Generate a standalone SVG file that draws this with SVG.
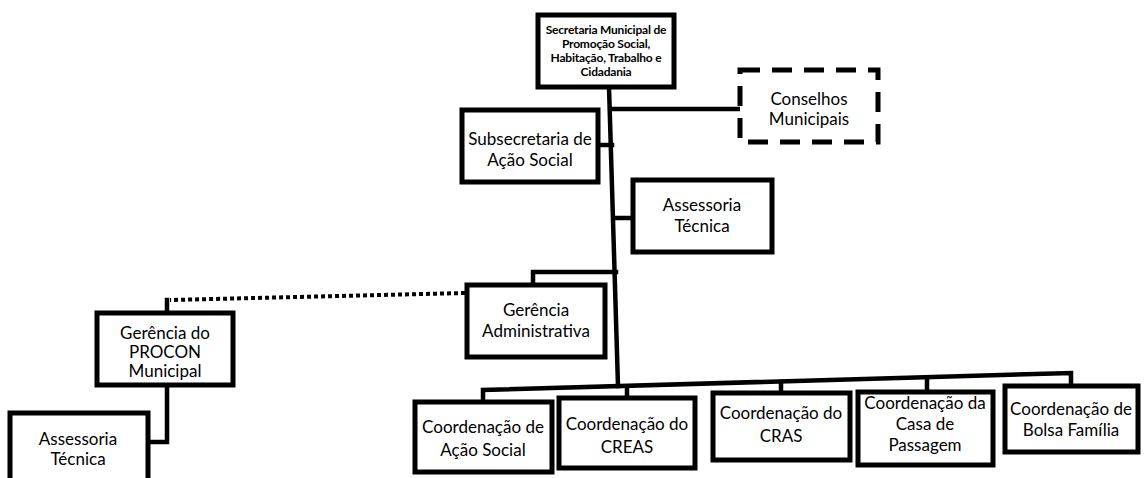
<svg xmlns="http://www.w3.org/2000/svg" width="1148" height="478" viewBox="0 0 1148 478">
<style>
.box{fill:#fff;stroke:#000;stroke-width:5}
.dash{fill:#fff;stroke:#000;stroke-width:5;stroke-dasharray:20 12}
.ln{fill:none;stroke:#000;stroke-width:4.5;stroke-linecap:square}
.dot{fill:none;stroke:#000;stroke-width:4;stroke-dasharray:4 3}
text{font-family:Lato,"Liberation Sans",sans-serif;font-size:17px;fill:#000;text-anchor:middle}
.sm{font-size:12px;font-weight:bold;letter-spacing:-0.2px}
</style>
<rect width="1148" height="478" fill="#fff"/>
<g id="connectors">
<path class="ln" d="M609,87 L618,386"/>
<path class="ln" d="M611,109 L740,109"/>
<path class="ln" d="M598,145 L612,145"/>
<path class="ln" d="M614,218 L633,218"/>
<path class="ln" d="M616,272 L533,272 L533,285"/>
<path class="ln" d="M483,402 L483,390 L1071,373 L1071,386"/>
<path class="ln" d="M627,398 L627,387"/>
<path class="ln" d="M781,393 L781,382"/>
<path class="ln" d="M927,392 L927,378"/>
<path class="dot" d="M465,293 L170,300"/>
<path class="ln" d="M167,300 L167,313"/>
<path class="ln" d="M167,386 L167,442 L150,442"/>
</g>
<g id="n-secretaria">
<rect class="box" x="538" y="15" width="136" height="72"/>
<text class="sm" x="606" y="34">Secretaria Municipal de</text>
<text class="sm" x="606" y="48">Promoção Social,</text>
<text class="sm" x="606" y="62">Habitação, Trabalho e</text>
<text class="sm" x="606" y="76">Cidadania</text>
</g>
<g id="n-conselhos">
<rect class="dash" x="740" y="70" width="138" height="72"/>
<text x="809" y="105">Conselhos</text>
<text x="809" y="125">Municipais</text>
</g>
<g id="n-subsecretaria">
<rect class="box" x="462" y="110" width="136" height="72"/>
<text x="530" y="145">Subsecretaria de</text>
<text x="530" y="166">Ação Social</text>
</g>
<g id="n-assessoria1">
<rect class="box" x="633" y="180" width="139" height="72"/>
<text x="702" y="211">Assessoria</text>
<text x="702" y="232">Técnica</text>
</g>
<g id="n-gerencia-adm">
<rect class="box" x="467" y="285" width="138" height="72"/>
<text x="536" y="316">Gerência</text>
<text x="536" y="337">Administrativa</text>
</g>
<g id="n-procon">
<rect class="box" x="97" y="313" width="136" height="72"/>
<text x="165" y="339">Gerência do</text>
<text x="165" y="358">PROCON</text>
<text x="165" y="377">Municipal</text>
</g>
<g id="n-assessoria2">
<rect class="box" x="10" y="413" width="138" height="70"/>
<text x="78" y="445">Assessoria</text>
<text x="78" y="465">Técnica</text>
</g>
<g id="n-coord-acao">
<rect class="box" x="415" y="402" width="137" height="70"/>
<text x="483" y="433">Coordenação de</text>
<text x="483" y="456">Ação Social</text>
</g>
<g id="n-coord-creas">
<rect class="box" x="559" y="398" width="136" height="70"/>
<text x="627" y="430">Coordenação do</text>
<text x="627" y="453">CREAS</text>
</g>
<g id="n-coord-cras">
<rect class="box" x="713" y="393" width="137" height="67"/>
<text x="781" y="419">Coordenação do</text>
<text x="781" y="442">CRAS</text>
</g>
<g id="n-coord-casa">
<rect class="box" x="858" y="392" width="135" height="73"/>
<text x="925" y="409">Coordenação da</text>
<text x="925" y="430">Casa de</text>
<text x="925" y="451">Passagem</text>
</g>
<g id="n-coord-bolsa">
<rect class="box" x="1005" y="386" width="133" height="66"/>
<text x="1071" y="415">Coordenação de</text>
<text x="1071" y="436">Bolsa Família</text>
</g>
</svg>
